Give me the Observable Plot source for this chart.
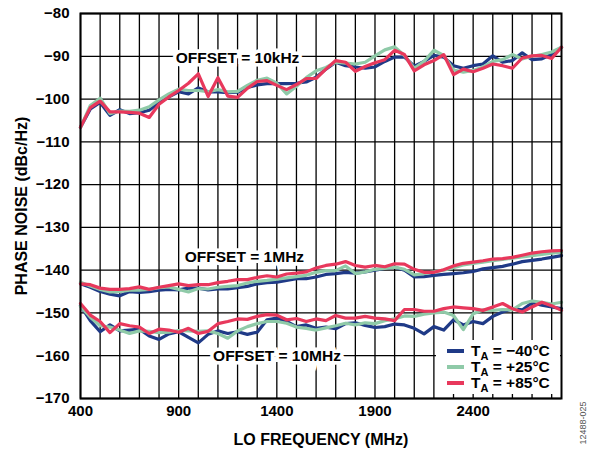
<!DOCTYPE html>
<html><head><meta charset="utf-8">
<script src="https://cdn.jsdelivr.net/npm/d3@7"></script>
<script src="https://cdn.jsdelivr.net/npm/@observablehq/plot@0.6"></script>
<style>
body{margin:0;background:#fff;}
#wrap{position:relative;width:593px;height:452px;font-family:"Liberation Sans",Arial,sans-serif;}
#legend{position:absolute;left:436px;top:340px;width:124px;height:54px;background:#fff;}
.row{position:absolute;left:11px;height:16px;display:flex;align-items:center;font-weight:bold;font-size:15.5px;color:#000;white-space:nowrap;}
.sw{width:17px;height:4px;margin-right:7px;}
.row sub{font-size:11px;vertical-align:-4px;line-height:0;}
#code{position:absolute;left:576px;top:396px;width:14px;height:54px;}
#code span{position:absolute;left:50%;top:50%;transform:translate(-50%,-50%) rotate(-90deg);font-size:9px;color:#555;white-space:nowrap;font-family:"Liberation Sans",Arial,sans-serif;}
</style>
</head><body>
<div id="wrap"><div id="chart"></div><div id="legend"></div><div id="code"><span>12488-025</span></div></div>
<script>
const freq = [400,450,500,550,600,650,700,750,800,850,900,950,1000,1050,1100,1150,1200,1250,1300,1350,1400,1450,1500,1550,1600,1650,1700,1750,1800,1850,1900,1950,2000,2050,2100,2150,2200,2250,2300,2350,2400,2450,2500,2550,2600,2650,2700,2750,2800,2850];

// OFFSET = 10kHz
const k10_m40 = [-106.6,-102.3,-100.8,-103.8,-102.5,-103.4,-103.2,-102.6,-100.8,-99.5,-98.3,-98.8,-97.4,-98.3,-98.3,-98.5,-98.4,-97.3,-96.7,-96.4,-96.4,-96.4,-96.3,-96.0,-94.9,-93.0,-91.4,-92.2,-92.5,-92.8,-92.5,-91.2,-90.2,-90.2,-92.3,-91.2,-89.8,-90.2,-92.2,-92.8,-92.2,-91.8,-89.9,-91.4,-91.0,-89.2,-90.8,-90.6,-89.6,-87.9];
const k10_p25 = [-106.6,-101.5,-99.8,-103.4,-102.8,-102.9,-102.6,-101.8,-100.2,-98.8,-97.7,-98.0,-98.0,-98.3,-97.8,-98.3,-98.2,-96.8,-95.6,-95.1,-96.3,-98.8,-97.0,-95.0,-93.4,-92.6,-91.4,-91.6,-91.8,-91.4,-89.9,-88.5,-87.8,-89.8,-92.8,-91.2,-88.6,-89.8,-93.2,-93.7,-93.3,-92.5,-91.2,-90.8,-89.6,-90.6,-90.0,-89.6,-89.0,-87.9];
const k10_p85 = [-106.6,-102.0,-100.5,-103.0,-103.0,-103.1,-103.3,-104.3,-101.2,-99.5,-98.0,-96.3,-94.1,-99.4,-95.0,-99.3,-99.6,-97.5,-95.9,-95.7,-96.8,-97.8,-96.6,-95.2,-95.2,-93.0,-91.0,-91.4,-93.5,-92.4,-91.5,-90.8,-88.6,-89.6,-93.4,-92.0,-91.0,-89.6,-94.3,-93.0,-93.6,-92.8,-91.8,-92.2,-92.8,-90.4,-89.9,-89.8,-90.5,-87.9];

// OFFSET = 1MHz
const m1_m40 = [-143.2,-144.0,-145.0,-145.6,-146.0,-145.0,-145.2,-145.0,-144.7,-144.5,-144.6,-144.2,-144.2,-144.6,-144.4,-144.4,-144.1,-143.8,-143.2,-142.9,-142.8,-142.4,-142.0,-142.0,-141.6,-141.0,-140.8,-140.5,-140.7,-140.4,-140.0,-139.6,-139.3,-140.0,-141.6,-141.5,-141.2,-141.0,-140.8,-140.6,-140.3,-139.7,-139.4,-139.1,-138.6,-138.0,-137.7,-137.4,-137.0,-136.6];
const m1_p25 = [-142.8,-143.7,-144.5,-145.1,-145.0,-144.7,-144.7,-144.5,-144.1,-143.9,-144.5,-145.1,-144.3,-144.4,-144.0,-143.8,-143.6,-143.0,-142.6,-142.4,-142.1,-141.8,-141.5,-141.2,-140.5,-140.1,-140.1,-139.0,-140.8,-140.4,-139.8,-139.6,-139.3,-139.8,-141.1,-140.8,-140.4,-140.0,-139.4,-138.8,-138.4,-138.1,-137.8,-137.5,-137.2,-136.9,-136.6,-136.3,-136.0,-135.8];
const m1_p85 = [-143.2,-143.4,-144.2,-144.5,-144.5,-144.3,-143.9,-144.5,-144.0,-143.6,-143.2,-143.6,-143.4,-143.4,-142.9,-142.6,-142.2,-142.2,-141.7,-141.3,-141.6,-140.9,-140.7,-140.4,-139.5,-138.9,-138.6,-138.0,-138.9,-139.3,-138.9,-139.2,-138.5,-138.6,-139.8,-140.5,-140.5,-139.9,-139.0,-138.4,-138.1,-137.8,-137.4,-137.3,-137.0,-136.5,-136.0,-135.7,-135.5,-135.4];

// OFFSET = 10MHz
const m10_m40 = [-148.3,-151.8,-154.4,-152.8,-154.2,-154.0,-153.8,-155.4,-156.2,-154.9,-154.4,-155.7,-157.0,-155.0,-154.2,-154.8,-154.4,-155.0,-154.5,-151.6,-151.2,-152.0,-153.2,-152.8,-153.6,-153.3,-153.7,-152.5,-152.3,-152.9,-153.4,-153.2,-152.6,-152.8,-153.6,-154.9,-153.2,-154.0,-151.6,-152.8,-152.0,-152.5,-150.8,-149.8,-149.0,-149.3,-147.6,-148.2,-148.6,-149.0];
const m10_p25 = [-148.5,-151.0,-153.0,-153.3,-154.0,-154.8,-154.2,-154.3,-154.6,-154.5,-154.1,-154.2,-154.3,-154.2,-154.8,-155.9,-154.2,-153.2,-152.5,-152.0,-152.0,-152.4,-153.3,-153.6,-154.0,-153.5,-153.0,-152.4,-152.8,-152.3,-152.5,-151.8,-151.4,-150.7,-150.8,-150.3,-150.0,-149.8,-150.6,-153.9,-150.2,-149.3,-149.4,-149.2,-149.3,-147.8,-147.2,-147.5,-147.9,-147.5];
const m10_p85 = [-147.8,-150.5,-152.0,-154.6,-152.5,-153.0,-153.3,-154.8,-153.8,-154.0,-154.5,-153.6,-154.8,-154.3,-152.5,-152.0,-151.4,-151.5,-150.8,-150.4,-150.5,-151.6,-151.3,-152.0,-151.4,-151.8,-150.6,-151.2,-151.2,-150.8,-151.2,-151.4,-151.8,-149.2,-149.2,-149.6,-149.6,-149.0,-148.6,-148.8,-149.0,-149.4,-148.6,-147.8,-149.0,-149.8,-148.6,-147.5,-148.3,-149.4];

const temps = ["TA = −40°C","TA = +25°C","TA = +85°C"];
const tempColors = ["#1f3a87","#8fcaa8","#e8385c"];
const xTickLabels = [400,900,1400,1900,2400];
const xGrid = d3.range(400, 2801, 100);
const yTicks = d3.range(-170, -79, 10);
const offsetLabels = ["OFFSET = 10kHz","OFFSET = 1MHz","OFFSET = 10MHz"];
const offsetLabelX = [1200, 1235, 1401];
const offsetLabelY = [-90.3, -137.0, -160];

const seriesList = [
  {offset:"10kHz", t:0, v:k10_m40},{offset:"10kHz", t:1, v:k10_p25},{offset:"10kHz", t:2, v:k10_p85},
  {offset:"1MHz", t:0, v:m1_m40},{offset:"1MHz", t:1, v:m1_p25},{offset:"1MHz", t:2, v:m1_p85},
  {offset:"10MHz", t:0, v:m10_m40},{offset:"10MHz", t:1, v:m10_p25},{offset:"10MHz", t:2, v:m10_p85}
];
const rows = [];
for (const t of [0,1,2]) for (const s of seriesList.filter(d => d.t === t))
  freq.forEach((f,i) => rows.push({f, v:s.v[i], temp:temps[t], key:s.offset+"-"+t}));
const labels = offsetLabels.map((text,i) => ({text, x:offsetLabelX[i], y:offsetLabelY[i]}));

const chart = Plot.plot({
  width: 593, height: 452,
  marginLeft: 80, marginRight: 32, marginTop: 13, marginBottom: 54,
  style: {fontFamily: "'Liberation Sans', Arial, sans-serif", fontWeight: "bold", fontSize: "15px", background: "#fff", color: "#000"},
  x: {domain: [400, 2850], ticks: xTickLabels, tickSize: 0, tickPadding: 7, tickFormat: d => String(d), label: null},
  y: {domain: [-170, -80], ticks: yTicks, tickSize: 0, tickPadding: 11, label: null},
  color: {domain: temps, range: tempColors},
  marks: [
    Plot.ruleX(xGrid, {stroke: "#000", strokeWidth: 1.3}),
    Plot.ruleY(yTicks, {stroke: "#000", strokeWidth: 1.3}),
    Plot.line(rows, {x: "f", y: "v", z: "key", stroke: "temp", strokeWidth: 3.2, strokeLinejoin: "round"}),
    Plot.text(labels, {x: "x", y: "y", text: "text", fill: "#000", stroke: "#fff", strokeWidth: 7, paintOrder: "stroke", strokeLinejoin: "miter", fontSize: 15.5, fontWeight: "bold"}),
    Plot.frame({stroke: "#000", strokeWidth: 2}),
    Plot.text(["PHASE NOISE (dBc/Hz)"], {frameAnchor: "left", dx: -59, rotate: -90, textAnchor: "middle", lineAnchor: "middle", fontSize: 16, fontWeight: "bold"}),
    Plot.text(["LO FREQUENCY (MHz)"], {frameAnchor: "bottom", dy: 41, textAnchor: "middle", lineAnchor: "middle", fontSize: 16, fontWeight: "bold"})
  ]
});
document.getElementById("chart").appendChild(chart);

const legend = document.getElementById("legend");
temps.forEach((t, i) => {
  const row = document.createElement("div");
  row.className = "row";
  row.style.top = (3 + i * 16) + "px";
  const sw = document.createElement("div");
  sw.className = "sw";
  sw.style.background = tempColors[i];
  row.appendChild(sw);
  const txt = document.createElement("span");
  txt.innerHTML = "T<sub>A</sub> " + t.slice(3);
  row.appendChild(txt);
  legend.appendChild(row);
});
</script>
</body></html>
